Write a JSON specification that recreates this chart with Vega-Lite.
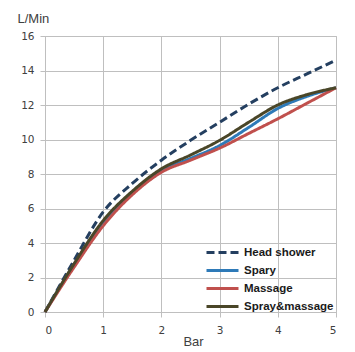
{
  "$schema": "https://vega.github.io/schema/vega-lite/v6.json",
  "width": 291,
  "height": 276,
  "autosize": "none",
  "padding": {"left": 45, "top": 36, "right": 19, "bottom": 40},
  "background": "white",
  "config": {
    "view": {"stroke": "#bfbfbf", "strokeWidth": 1},
    "font": "Liberation Sans"
  },
  "data": {
    "values": [
      {"bar": 0, "flow": 0, "series": "Head shower"},
      {"bar": 0.5, "flow": 3.0, "series": "Head shower"},
      {"bar": 1, "flow": 5.8, "series": "Head shower"},
      {"bar": 1.5, "flow": 7.45, "series": "Head shower"},
      {"bar": 2, "flow": 8.8, "series": "Head shower"},
      {"bar": 2.5, "flow": 9.95, "series": "Head shower"},
      {"bar": 3, "flow": 11.0, "series": "Head shower"},
      {"bar": 3.5, "flow": 12.05, "series": "Head shower"},
      {"bar": 4, "flow": 13.0, "series": "Head shower"},
      {"bar": 4.5, "flow": 13.8, "series": "Head shower"},
      {"bar": 5, "flow": 14.6, "series": "Head shower"},
      {"bar": 0, "flow": 0, "series": "Spary"},
      {"bar": 0.5, "flow": 2.75, "series": "Spary"},
      {"bar": 1, "flow": 5.2, "series": "Spary"},
      {"bar": 1.5, "flow": 6.9, "series": "Spary"},
      {"bar": 2, "flow": 8.2, "series": "Spary"},
      {"bar": 2.5, "flow": 8.9, "series": "Spary"},
      {"bar": 3, "flow": 9.65, "series": "Spary"},
      {"bar": 3.5, "flow": 10.7, "series": "Spary"},
      {"bar": 4, "flow": 11.8, "series": "Spary"},
      {"bar": 4.5, "flow": 12.5, "series": "Spary"},
      {"bar": 5, "flow": 13.0, "series": "Spary"},
      {"bar": 0, "flow": 0, "series": "Massage"},
      {"bar": 0.5, "flow": 2.6, "series": "Massage"},
      {"bar": 1, "flow": 5.0, "series": "Massage"},
      {"bar": 1.5, "flow": 6.8, "series": "Massage"},
      {"bar": 2, "flow": 8.1, "series": "Massage"},
      {"bar": 2.5, "flow": 8.8, "series": "Massage"},
      {"bar": 3, "flow": 9.5, "series": "Massage"},
      {"bar": 3.5, "flow": 10.35, "series": "Massage"},
      {"bar": 4, "flow": 11.2, "series": "Massage"},
      {"bar": 4.5, "flow": 12.1, "series": "Massage"},
      {"bar": 5, "flow": 13.0, "series": "Massage"},
      {"bar": 0, "flow": 0, "series": "Spray&massage"},
      {"bar": 0.5, "flow": 2.8, "series": "Spray&massage"},
      {"bar": 1, "flow": 5.3, "series": "Spray&massage"},
      {"bar": 1.5, "flow": 7.0, "series": "Spray&massage"},
      {"bar": 2, "flow": 8.3, "series": "Spray&massage"},
      {"bar": 2.5, "flow": 9.1, "series": "Spray&massage"},
      {"bar": 3, "flow": 9.95, "series": "Spray&massage"},
      {"bar": 3.5, "flow": 11.0, "series": "Spray&massage"},
      {"bar": 4, "flow": 12.0, "series": "Spray&massage"},
      {"bar": 4.5, "flow": 12.6, "series": "Spray&massage"},
      {"bar": 5, "flow": 13.0, "series": "Spray&massage"}
    ]
  },
  "mark": {"type": "line", "interpolate": "monotone", "strokeWidth": 3},
  "encoding": {
    "x": {
      "field": "bar", "type": "quantitative",
      "scale": {"domain": [0, 5], "nice": false},
      "axis": {
        "values": [0, 1, 2, 3, 4, 5], "format": "d",
        "title": "Bar", "titleFontWeight": "normal", "titleFontSize": 13, "titleColor": "#404040",
        "titleX": 148, "titleY": 33, "titleAnchor": "middle", "titleBaseline": "alphabetic",
        "labelFont": "DejaVu Sans", "labelFontSize": 10.5, "labelColor": "#404040", "labelPadding": 8,
        "gridColor": "#bfbfbf", "domainColor": "#bfbfbf", "tickColor": "#bfbfbf", "tickSize": 5
      }
    },
    "y": {
      "field": "flow", "type": "quantitative",
      "scale": {"domain": [0, 16], "nice": false},
      "axis": {
        "values": [0, 2, 4, 6, 8, 10, 12, 14, 16],
        "title": "L/Min", "titleAngle": 0, "titleFontWeight": "normal", "titleFontSize": 13, "titleColor": "#404040",
        "titleX": -28, "titleY": -14, "titleAlign": "left", "titleBaseline": "alphabetic",
        "labelFont": "DejaVu Sans", "labelFontSize": 10.5, "labelColor": "#404040", "labelPadding": 6,
        "gridColor": "#bfbfbf", "domainColor": "#bfbfbf", "tickColor": "#bfbfbf", "tickSize": 5
      }
    },
    "color": {
      "field": "series", "type": "nominal", "title": null,
      "scale": {
        "domain": ["Head shower", "Spary", "Massage", "Spray&massage"],
        "range": ["#243f60", "#2e7ab8", "#c0504d", "#4a4628"]
      },
      "legend": {
        "orient": "none", "legendX": 168, "legendY": 207,
        "symbolType": "M-2,0H2", "symbolSize": 256, "symbolStrokeWidth": 3,
        "labelFontSize": 11.5, "labelFontWeight": "bold", "labelColor": "#1a1a1a",
        "rowPadding": 2, "labelOffset": 12, "padding": 0
      }
    },
    "strokeDash": {
      "field": "series", "type": "nominal", "title": null,
      "scale": {
        "domain": ["Head shower", "Spary", "Massage", "Spray&massage"],
        "range": [[8, 4], [1, 0], [1, 0], [1, 0]]
      }
    },
    "order": {"field": "bar", "type": "quantitative"}
  }
}
